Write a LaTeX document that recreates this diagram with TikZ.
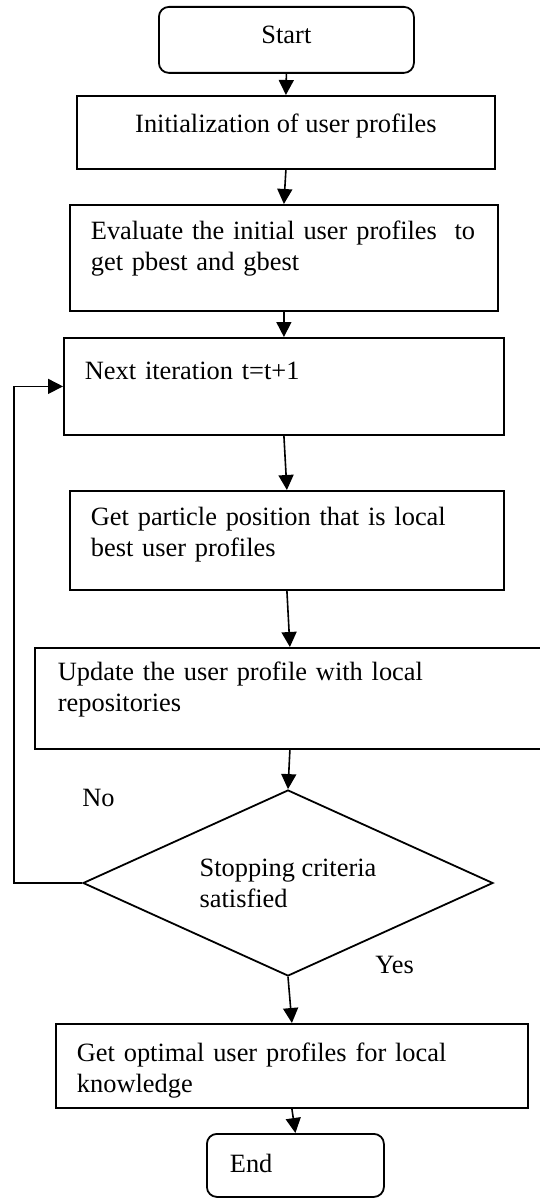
\documentclass[tikz,border=0pt]{standalone}
\usepackage{fontspec}
\setmainfont{Liberation Serif}
\usetikzlibrary{arrows.meta,shapes.geometric}
\tikzset{
  terminal/.style={
    rectangle, rounded corners=5pt, draw=black, line width=0.9pt,
    inner sep=0pt, anchor=north west
  },
  process/.style={
    rectangle, draw=black, line width=0.9pt, inner ysep=0pt,
    inner xsep=10.5pt, align=left, anchor=north west
  },
  decision/.style={
    diamond, draw=black, line width=0.9pt, inner sep=0pt, aspect=2.2,
    minimum width=205pt, minimum height=93pt, align=left
  },
  answer/.style={inner sep=0pt, anchor=base west},
  flow/.style={-{Triangle[length=7.5pt,width=7.5pt]}, line width=0.8pt, draw=black}
}

\begin{document}
\begin{tikzpicture}[x=0.5pt,y=-0.5pt,font=\fontsize{13.2}{15.5}\selectfont]
    \useasboundingbox (0,0) rectangle (540,1198);
    \node[terminal,minimum width=127.5pt,text height=18.5pt,text depth=14.5pt] (start) at (158,6) {Start};
    \node[process,inner xsep=0pt,minimum width=209pt,align=center,text height=18.5pt,text depth=18pt] (init) at (76,95) {Initialization of user profiles};
    \node[process,text width=193pt,text height=17.5pt,text depth=35.5pt] (evaluate) at (69,204) {Evaluate the initial user profiles~ to\\get pbest and gbest};
    \node[process,text width=199pt,text height=21pt,text depth=27.5pt] (next) at (63,337) {Next iteration t=t+1};
    \node[process,text width=196pt,text height=17.5pt,text depth=32pt] (particle) at (69,490) {Get particle position that is local\\best user profiles};
    \node[process,inner xsep=11.5pt,text width=232pt,text height=16.5pt,text depth=34pt] (update) at (34,647) {Update the user profile with local\\repositories};
    \node[decision] (check) at (288,883) {Stopping criteria\\satisfied};
    \node[process,text width=215pt,text height=19pt,text depth=23pt] (optimal) at (55,1023) {Get optimal user profiles for local\\knowledge};
    \node[terminal,inner xsep=11.5pt,text width=65.5pt,align=left,text height=19.5pt,text depth=12pt] (end) at (206,1133) {End};
    \node[answer] (no) at (82,806) {No};
    \node[answer] (yes) at (375,973) {Yes};
    \draw[flow] (start.south)--(init.north);
    \draw[flow] (init.south)--(evaluate.north);
    \draw[flow] (evaluate.south)--(next.north);
    \draw[flow] (next.south)--(particle.north);
    \draw[flow] (particle.south)--(update.north);
    \draw[flow] (update.south)--(check.north);
    \draw[flow] (check.south)--(optimal.north);
    \draw[flow] (optimal.south)--(end.north);
    \draw[flow] (check.west)--++(-68,0)|-(next.west);
\end{tikzpicture}
\end{document}
